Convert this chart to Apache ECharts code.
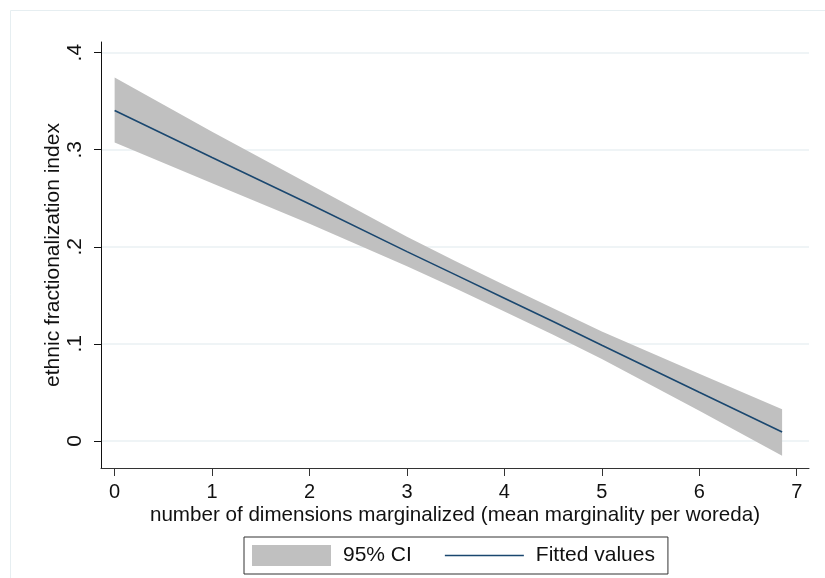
<!DOCTYPE html>
<html>
<head>
<meta charset="utf-8">
<script src="https://cdn.jsdelivr.net/npm/echarts@6/dist/echarts.min.js"></script>
<style>
  html, body { margin: 0; padding: 0; background: #fff; }
  #chart { width: 825px; height: 578px; }
</style>
</head>
<body>
<div id="chart"></div>
<script>
// x positions of the fitted line (mean marginality)
const xValues = [0, 1, 2, 3, 3.5, 4, 4.5, 5, 6, 6.85];
// fitted values
const fitted = [0.3405, 0.292, 0.244, 0.195, 0.171, 0.147, 0.123, 0.0985, 0.050, 0.009];
// 95% CI bounds
const ciLower = [0.3075, 0.2655, 0.2237, 0.1798, 0.157, 0.1334, 0.1094, 0.0843, 0.031, -0.0154];
const ciUpper = [0.3745, 0.3185, 0.2643, 0.2102, 0.185, 0.1606, 0.1366, 0.1127, 0.069, 0.0326];

const xTicks = [0, 1, 2, 3, 4, 5, 6, 7];
const yTicks = [0, 0.1, 0.2, 0.3, 0.4];
const yTickLabels = ["0", ".1", ".2", ".3", ".4"];

const font = "Liberation Sans, Arial, sans-serif";

const chart = echarts.init(document.getElementById("chart"));

// polygon of the band: upper edge left to right, lower edge back
const bandPoints = xValues.map((x, i) => [x, ciUpper[i]])
  .concat(xValues.map((x, i) => [x, ciLower[i]]).reverse());

const option = {
  backgroundColor: "#fff",
  animation: false,
  graphic: [
    {
      type: "rect",
      shape: { x: 10.5, y: 10.5, width: 900, height: 700 },
      style: { fill: "none", stroke: "#e6eef1", lineWidth: 1 },
      silent: true,
    },
  ],
  grid: { left: 101, right: 16, top: 42, bottom: 110, containLabel: false },
  xAxis: {
    type: "value",
    min: -0.14,
    max: 7.126,
    name: "number of dimensions marginalized (mean marginality per woreda)",
    nameLocation: "middle",
    nameGap: 37,
    nameMoveOverlap: false,
    nameTextStyle: { fontFamily: font, fontSize: 20.6, color: "#111" },
    axisLine: { show: true, onZero: false, lineStyle: { color: "#333", width: 1 } },
    axisTick: { show: true, customValues: xTicks, length: 8, lineStyle: { color: "#333" } },
    axisLabel: {
      customValues: xTicks,
      fontFamily: font,
      fontSize: 20,
      color: "#111",
      margin: 14,
    },
    splitLine: { show: false },
  },
  yAxis: {
    type: "value",
    min: -0.028,
    max: 0.411,
    name: "ethnic fractionalization index",
    nameLocation: "middle",
    nameGap: 37,
    nameRotate: 90,
    nameMoveOverlap: false,
    nameTextStyle: { fontFamily: font, fontSize: 21, color: "#111" },
    axisLine: { show: true, onZero: false, lineStyle: { color: "#111", width: 1 } },
    axisTick: { show: true, customValues: yTicks, length: 7, lineStyle: { color: "#111" } },
    axisLabel: {
      customValues: yTicks,
      rotate: 90,
      fontFamily: font,
      fontSize: 21,
      color: "#111",
      margin: 15,
      formatter: (v) => yTickLabels[yTicks.findIndex((t) => Math.abs(t - v) < 1e-9)],
    },
    splitLine: { show: true, lineStyle: { color: "#eaf1f3", width: 1.5 } },
  },
  legend: {
    left: 244,
    top: 537,
    padding: [8, 13, 8, 8],
    borderColor: "#333",
    borderWidth: 1,
    itemWidth: 79,
    itemHeight: 21,
    itemGap: 33,
    textStyle: { fontFamily: font, fontSize: 21, color: "#111", padding: [0, 0, 0, 7] },
    data: [
      { name: "95% CI", icon: "rect", itemStyle: { color: "#c0c0c0" } },
      { name: "Fitted values", icon: "path://M0,0 L80,0 L80,1.6 L0,1.6 Z", itemStyle: { color: "#1a476f" } },
    ],
  },
  series: [
    {
      name: "95% CI",
      type: "custom",
      itemStyle: { color: "#c0c0c0" },
      data: [0],
      renderItem: (params, api) => ({
        type: "polygon",
        shape: { points: bandPoints.map((p) => api.coord(p)) },
        style: { fill: "#c0c0c0" },
      }),
      z: 1,
    },
    {
      name: "Fitted values",
      type: "line",
      data: xValues.map((x, i) => [x, fitted[i]]),
      symbol: "none",
      lineStyle: { color: "#1a476f", width: 1.6 },
      itemStyle: { color: "#1a476f" },
      z: 3,
    },
  ],
};

chart.setOption(option);
</script>
</body>
</html>
